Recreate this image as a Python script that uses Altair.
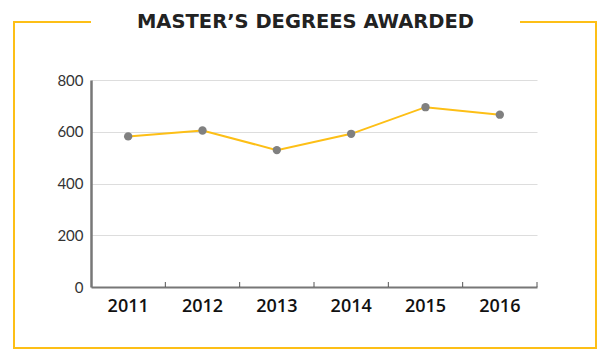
import altair as alt
import pandas as pd

years = ["2011", "2012", "2013", "2014", "2015", "2016"]
degrees = [582, 605, 529, 592, 695, 666]
y_ticks = [0, 200, 400, 600, 800]
title_text = "MASTER’S DEGREES AWARDED"

GOLD = "#FDBF16"
W, H = 446, 207

df = pd.DataFrame({"year": years, "degrees": degrees})
one = pd.DataFrame({"a": [0]})

xenc = alt.X("year:N", sort=years,
             scale=alt.Scale(paddingInner=0, paddingOuter=0),
             axis=alt.Axis(title=None, ticks=False, labelAngle=0, labelPadding=10,
                           labelFont="Open Sans", labelFontSize=18, labelFontWeight=600,
                           labelColor="#111111", domainColor="#777777", domainWidth=2,
                           grid=False))
yenc = alt.Y("degrees:Q",
             scale=alt.Scale(domain=[0, 800], nice=False),
             axis=alt.Axis(title=None, values=y_ticks, ticks=False, labelPadding=8,
                           labelFont="Lato", labelFontSize=15, labelColor="#333333",
                           domainColor="#777777", domainWidth=2.5,
                           gridColor="#dddddd", gridWidth=1))

base = alt.Chart(df)
line = base.mark_line(color=GOLD, strokeWidth=2).encode(x=xenc, y=yenc)
pts = base.mark_circle(color="#808080", size=70, opacity=1).encode(x=alt.X("year:N", sort=years), y="degrees:Q")
ticks = base.mark_rule(color="#555555", strokeWidth=1).encode(
    x=alt.X("year:N", sort=years, bandPosition=1),
    y=alt.value(H - 5), y2=alt.value(H))

fr = alt.Chart(one)
frame = [
    fr.mark_rule(color=GOLD, strokeWidth=2).encode(x=alt.value(-77), y=alt.value(-58), y2=alt.value(268)),
    fr.mark_rule(color=GOLD, strokeWidth=2).encode(x=alt.value(505), y=alt.value(-58), y2=alt.value(268)),
    fr.mark_rule(color=GOLD, strokeWidth=2).encode(x=alt.value(-78), x2=alt.value(506), y=alt.value(268)),
    fr.mark_rule(color=GOLD, strokeWidth=2).encode(x=alt.value(-78), x2=alt.value(0), y=alt.value(-58)),
    fr.mark_rule(color=GOLD, strokeWidth=2).encode(x=alt.value(429), x2=alt.value(506), y=alt.value(-58)),
]
title = fr.mark_text(text=title_text, font="DejaVu Sans", fontSize=19.5, fontWeight="bold",
                     color="#222222", align="center", baseline="middle").encode(
    x=alt.value(214.5), y=alt.value(-58))

chart = alt.layer(line, pts, ticks, *frame, title).properties(
    width=W, height=H,
    padding={"left": 91, "top": 80, "right": 73, "bottom": 76},
    autosize=alt.AutoSizeParams(type="none"),
).configure_view(stroke=None)

chart.save("out.html", embed_options={"renderer": "svg", "actions": False})
